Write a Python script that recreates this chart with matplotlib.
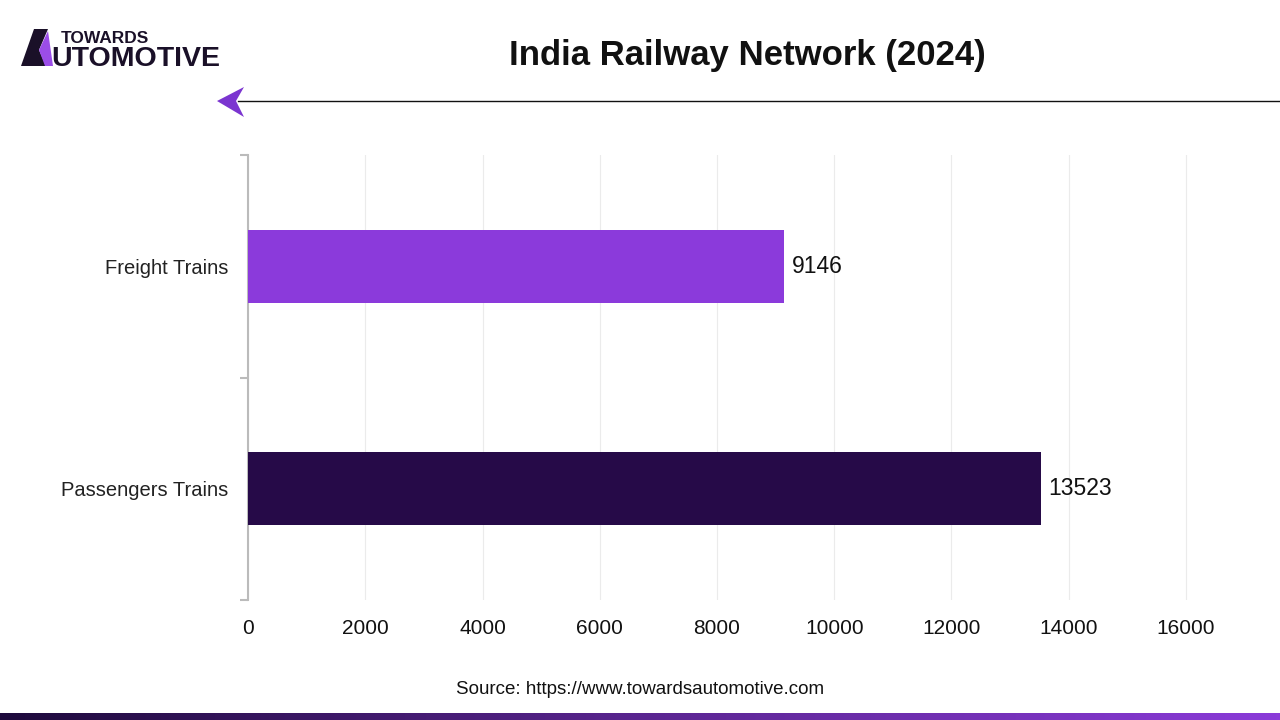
import matplotlib
matplotlib.use("Agg")
import matplotlib.pyplot as plt
import numpy as np
from matplotlib.patches import Polygon
from matplotlib.colors import LinearSegmentedColormap

categories = ["Passengers Trains", "Freight Trains"]
values = [13523, 9146]
bar_colors = ["#260a48", "#8b3adb"]
x_ticks = [0, 2000, 4000, 6000, 8000, 10000, 12000, 14000, 16000]
title = "India Railway Network (2024)"
source = "Source: https://www.towardsautomotive.com"

plt.rcParams['font.family'] = ['Liberation Sans', 'DejaVu Sans']

W, H = 1280, 720
fig = plt.figure(figsize=(12.8, 7.2), dpi=100)

def fx(px): return px / W
def fy(py): return 1 - py / H

ppu = (1186 - 248) / 16000.0
right_px = 1192
ax = fig.add_axes([fx(248), fy(600), fx(right_px) - fx(248), fy(155) - fy(600)])
y = np.arange(len(categories))
ax.barh(y, values, height=0.33, color=bar_colors, zorder=3)
ax.set_xlim(0, (right_px - 248) / ppu)
ax.set_ylim(-0.5, 1.5)
ax.set_xticks(x_ticks)
ax.set_xticklabels([str(t) for t in x_ticks], fontsize=15, color="#111111")
ax.set_yticks(y)
ax.set_yticklabels(categories, fontsize=14.5, color="#222222")
ax.set_yticks([-0.5, 0.5, 1.5], minor=True)
ax.tick_params(axis='y', which='major', length=0, pad=14)
ax.tick_params(axis='y', which='minor', length=6, color="#bbbbbb", width=1.5)
ax.tick_params(axis='x', length=0, pad=14)
ax.grid(axis='x', color="#ebebeb", linewidth=0.8, zorder=0)
for s in ['top', 'right', 'bottom']:
    ax.spines[s].set_visible(False)
ax.spines['left'].set_color("#bbbbbb")
ax.spines['left'].set_linewidth(1.5)
for yi, v in zip(y, values):
    ax.text(v + 130, yi, str(v), va='center', ha='left', fontsize=16.5, color="#111111", zorder=4)

# Title
fig.text(fx(747), fy(55), title, ha='center', va='center', fontsize=25, fontweight='bold', color="#111111")

# Decorative line with arrow
fig.add_artist(plt.Line2D([fx(238), fx(1280)], [fy(101), fy(101)], color="#111111", linewidth=1.0))
arrow = Polygon([[fx(217), fy(101)], [fx(244), fy(87)], [fx(236), fy(101)], [fx(244), fy(117)]],
                closed=True, transform=fig.transFigure, facecolor="#7b35d0", edgecolor='none')
fig.add_artist(arrow)

# Logo
logo_dark = Polygon([[fx(21), fy(66)], [fx(34), fy(29)], [fx(48), fy(29)], [fx(39), fy(50)], [fx(46), fy(66)]],
                    closed=True, transform=fig.transFigure, facecolor="#1a1028", edgecolor='none')
fig.add_artist(logo_dark)
logo_purple = Polygon([[fx(39), fy(50)], [fx(48), fy(31)], [fx(53), fy(66)], [fx(45), fy(66)]],
                      closed=True, transform=fig.transFigure, facecolor="#9b4de8", edgecolor='none')
fig.add_artist(logo_purple)
fig.text(fx(61), fy(43), "TOWARDS", ha='left', va='baseline', fontsize=12.5, fontweight='bold', color="#1a1028")
fig.text(fx(51), fy(66), "UTOMOTIVE", ha='left', va='baseline', fontsize=20.5, fontweight='bold', color="#1a1028")

# Source
fig.text(fx(640), fy(689), source, ha='center', va='center', fontsize=13.5, color="#111111")

# Bottom gradient bar
gax = fig.add_axes([0, 0, 1, fy(713)])
grad = np.linspace(0, 1, 512).reshape(1, -1)
cmap = LinearSegmentedColormap.from_list("g", ["#1e0a3c", "#5a2590", "#8b3bd9"])
gax.imshow(grad, aspect='auto', cmap=cmap, extent=[0, 1, 0, 1])
gax.axis('off')

fig.savefig("out.png", dpi=100)
